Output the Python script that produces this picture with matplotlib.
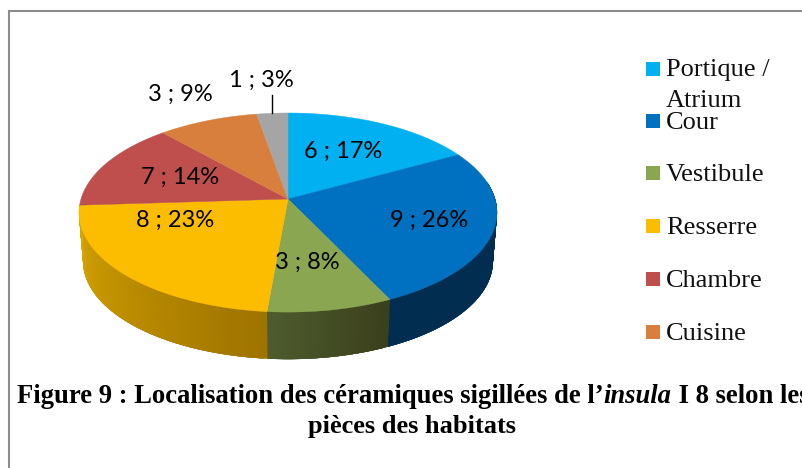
import numpy as np
import matplotlib
matplotlib.use("Agg")
from matplotlib import pyplot as plt
from matplotlib.patches import Polygon, Rectangle

# Values
rooms = ['Portique /\nAtrium', 'Cour', 'Vestibule', 'Resserre', 'Chambre', 'Cuisine', 'Autre']
counts = [6, 9, 3, 8, 7, 3, 1]
percents = [17, 26, 8, 23, 14, 9, 3]
# slice sizes as they are drawn, they differ a little from the printed labels
slices = [17, 25.9, 8.5, 22.6, 14.4, 8.85, 2.75]
colors = ['#00B0F0', '#0070C0', '#8BA650', '#FCBC00', '#BE4F4D', '#D87F3E', '#A5A5A5']
# colour of the side wall, left end and right end of each visible piece
wall_left = ['#002D50', '#002D50', '#4E5C2E', '#DBA800']
wall_right = ['#002D50', '#002D50', '#3A3F1C', '#9E7300']

fig = plt.figure(figsize=(8.03, 4.68), dpi=100)
ax = fig.add_axes([0, 0, 1, 1])
ax.set_xlim(0, 803)
ax.set_ylim(468, 0)
ax.axis('off')

# Perspective view of the pie: apex in (288,199), far edge flatter than near edge
CX, CY, RX, RY, K = 288, 199, 207, 97.7, 0.136


def top_point(deg, r=1.0):
    a = np.radians(deg)
    u, v = r * np.sin(a), r * np.cos(a)
    w = 1 + K * v
    return CX + RX * u / w, CY - RY * v / w


def bottom_point(deg):
    x, y = top_point(deg)
    return 288 + 0.98 * (x - 288), 261 + 0.98 * (y - 212)


def hex_rgb(c):
    return np.array(matplotlib.colors.to_rgb(c))


edges = np.concatenate([[0], np.cumsum(slices)]) * 3.6

# Side wall first, the top covers the hidden part
for i in range(len(wall_left)):
    start, end = max(edges[i], 80), edges[i + 1]
    if start >= end:
        continue
    for d in np.arange(start, end, 0.5):
        d2 = min(d + 1.5, end)
        x1, y1 = top_point(d)
        x2, y2 = top_point(d2)
        x3, y3 = bottom_point(d2)
        x4, y4 = bottom_point(d)
        # clockwise angle runs right to left along the front
        t = (d - start) / (end - start)
        col = hex_rgb(wall_left[i]) * t + hex_rgb(wall_right[i]) * (1 - t)
        ax.add_patch(Polygon([(x1, y1), (x2, y2), (x3, y3), (x4, y4)], closed=True,
                             facecolor=col, edgecolor=col, linewidth=0.2))

# Top of the pie
for i in range(len(slices)):
    degs = np.linspace(edges[i], edges[i + 1], 80)
    pts = [top_point(d) for d in degs]
    pts.append((CX, CY))
    ax.add_patch(Polygon(pts, closed=True, facecolor=colors[i], edgecolor=colors[i], linewidth=0.3))

# Data labels
label_xy = [(343, 151), (429, 220), (307, 262), (175, 220), (180, 177), (180, 94), (261, 80)]
for i in range(len(counts)):
    ax.text(label_xy[i][0], label_xy[i][1], '%d ; %d%%' % (counts[i], percents[i]),
            family='Lato', fontsize=17, color='black', ha='center', va='center')
ax.plot([272, 272], [95, 113], color='black', lw=1)

# Legend, last room has no visible entry in the reference
legend_y = [69, 121, 173, 226, 279, 332]
legend_off = [7, 8, 8, 8, 8, 8]
for i in range(6):
    ax.add_patch(Rectangle((646, legend_y[i] - 7), 14, 14, facecolor=colors[i], edgecolor='none'))
    lines = rooms[i].split('\n')
    for j in range(len(lines)):
        ax.text(666, legend_y[i] + legend_off[i] + j * 31, lines[j], family='Liberation Serif',
                fontsize=19, color='#111111', ha='left', va='baseline')

# Caption, bold with one italic word
renderer = fig.canvas.get_renderer()
x = 17
for part, style in [('Figure 9 : Localisation des céramiques sigillées de l’', 'normal'),
                    ('insula', 'italic'),
                    (' I 8 selon les', 'normal')]:
    t = ax.text(x, 403, part.replace(' ', '\u00a0'), family='Liberation Serif', fontsize=19.2,
                fontweight='bold', fontstyle=style, ha='left', va='baseline')
    x += t.get_window_extent(renderer).width
ax.text(412, 433, 'pièces des habitats', family='Liberation Serif', fontsize=19,
        fontweight='bold', ha='center', va='baseline')

# Frame of the page
ax.plot([9, 9, 803], [468, 11, 11], color='#8C8C8C', lw=1.5, solid_joinstyle='miter')

fig.savefig('out.png', dpi=100)
